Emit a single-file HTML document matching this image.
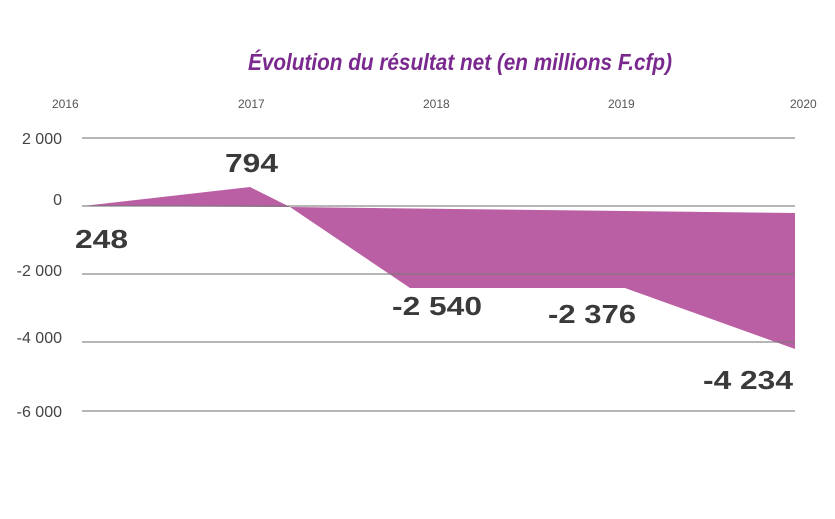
<!DOCTYPE html>
<html><head><meta charset="utf-8"><style>
body{margin:0;background:#fff;}
svg{display:block;font-family:"Liberation Sans",sans-serif;}
</style></head><body>
<svg width="835" height="519" viewBox="0 0 835 519">
<text x="248" y="70" font-size="23" font-weight="bold" font-style="italic" fill="#7a2a8e" textLength="424" lengthAdjust="spacingAndGlyphs">Évolution du résultat net (en millions F.cfp)</text>
<g font-size="12" fill="#555">
<text x="52" y="108">2016</text><text x="238" y="108">2017</text><text x="423" y="108">2018</text><text x="608" y="108">2019</text><text x="790" y="108">2020</text>
</g>
<g font-size="16" fill="#444" text-anchor="end">
<text x="62" y="144">2 000</text><text x="62" y="205">0</text><text x="62" y="276">-2 000</text><text x="62" y="343">-4 000</text><text x="62" y="417">-6 000</text>
</g>
<polygon points="83,206 250,187 290,207 410,288 625,288 795,349 795,213 290,207" fill="#bb5fa4"/>
<g stroke="#777" stroke-width="1.3" opacity="0.85">
<line x1="82" y1="138" x2="795" y2="138"/><line x1="82" y1="206" x2="795" y2="206"/><line x1="82" y1="274" x2="795" y2="274"/><line x1="82" y1="342" x2="795" y2="342"/><line x1="82" y1="411" x2="795" y2="411"/>
</g>
<g font-size="26" font-weight="bold" fill="#3a3a3a" lengthAdjust="spacingAndGlyphs">
<text x="75" y="248" textLength="53" lengthAdjust="spacingAndGlyphs">248</text>
<text x="225" y="172" textLength="53" lengthAdjust="spacingAndGlyphs">794</text>
<text x="392" y="315" textLength="90" lengthAdjust="spacingAndGlyphs">-2 540</text>
<text x="548" y="323" textLength="88" lengthAdjust="spacingAndGlyphs">-2 376</text>
<text x="703" y="389" textLength="90" lengthAdjust="spacingAndGlyphs">-4 234</text>
</g>
</svg>
</body></html>
